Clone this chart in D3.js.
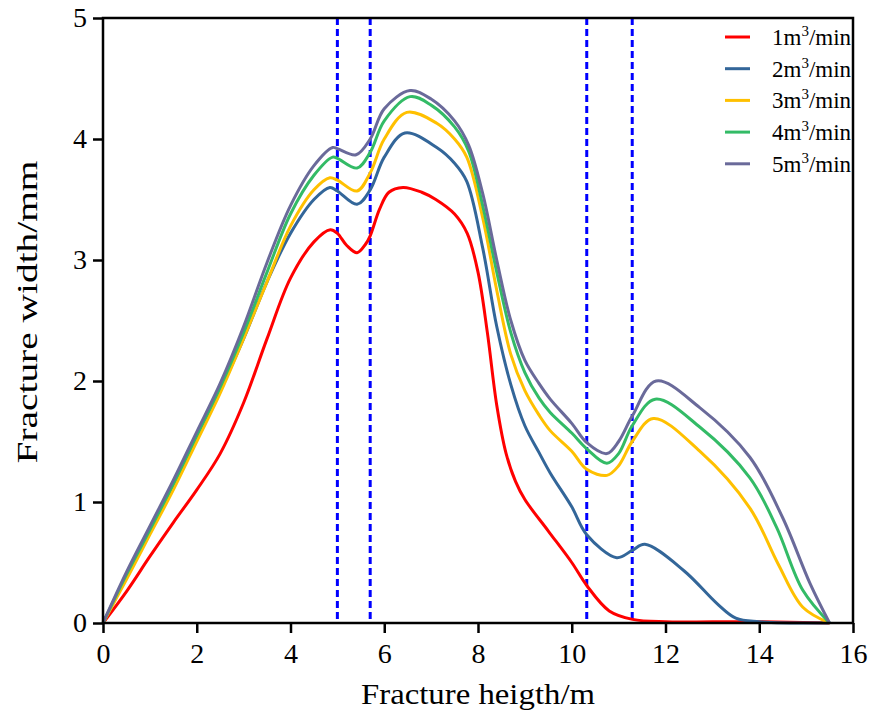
<!DOCTYPE html>
<meta charset="utf-8">
<script src="https://d3js.org/d3.v7.min.js"></script>
<style>
  body { margin: 0; background: #fff; }
</style>
<div id="my_dataviz"></div>
<script>

// flow-rate series (m3/min) and their colours
var seriesNames = ["1", "2", "3", "4", "5"]
var seriesColors = ["#ff0000", "#336699", "#ffc000", "#33bb66", "#6a6a9a"]

// fracture height (x, m) and width (y, mm)
var red = [[0,0],[0.5,0.26],[1,0.55],[1.5,0.83],[2,1.1],[2.5,1.4],[3,1.82],[3.5,2.35],[4,2.85],[4.5,3.15],[4.85,3.25],[5,3.22],[5.2,3.12],[5.42,3.06],[5.6,3.13],[5.7,3.2],[5.9,3.42],[6.1,3.56],[6.4,3.6],[6.8,3.56],[7.1,3.5],[7.5,3.38],[7.77,3.22],[8,2.9],[8.2,2.4],[8.4,1.8],[8.6,1.4],[8.8,1.17],[9,1.02],[9.5,0.76],[10,0.5],[10.32,0.31],[10.8,0.1],[11.3,0.03],[12,0.01],[13,0.01],[14,0.01],[15.5,0]]
var blue = [[0,0],[0.5,0.38],[1,0.75],[1.5,1.12],[2,1.52],[2.5,1.92],[3,2.35],[3.5,2.82],[4,3.22],[4.5,3.5],[4.84,3.6],[5,3.57],[5.42,3.46],[5.7,3.58],[6,3.85],[6.44,4.05],[7.12,3.93],[7.5,3.8],[7.76,3.65],[8.1,3.1],[8.4,2.45],[8.7,1.97],[9,1.63],[9.3,1.41],[9.54,1.24],[10,0.96],[10.32,0.73],[10.96,0.54],[11.29,0.6],[11.56,0.65],[12.4,0.43],[13.1,0.16],[13.5,0.04],[14,0.01],[15.5,0]]
var yellow = [[0,0],[0.5,0.36],[1,0.73],[1.5,1.1],[2,1.5],[2.5,1.9],[3,2.35],[3.5,2.82],[4,3.28],[4.5,3.58],[4.84,3.68],[5,3.66],[5.42,3.57],[5.7,3.72],[6,4],[6.48,4.22],[7.12,4.13],[7.5,4],[7.76,3.85],[8.1,3.35],[8.4,2.75],[8.7,2.22],[9,1.92],[9.3,1.72],[9.54,1.59],[10,1.42],[10.32,1.27],[10.75,1.22],[11,1.3],[11.29,1.5],[11.74,1.69],[12.73,1.42],[13.8,0.95],[14.4,0.49],[14.93,0.13],[15.5,0]]
var green = [[0,0],[0.5,0.4],[1,0.77],[1.5,1.15],[2,1.55],[2.5,1.95],[3,2.4],[3.5,2.9],[4,3.38],[4.5,3.7],[4.9,3.85],[5,3.84],[5.42,3.76],[5.7,3.89],[6,4.15],[6.55,4.35],[7,4.28],[7.5,4.1],[7.8,3.9],[8.1,3.45],[8.4,2.9],[8.7,2.4],[9,2.07],[9.3,1.86],[9.54,1.74],[10,1.57],[10.32,1.44],[10.75,1.32],[11,1.4],[11.29,1.63],[11.78,1.85],[12.73,1.62],[13.8,1.2],[14.37,0.79],[14.93,0.27],[15.5,0]]
var purple = [[0,0],[0.5,0.42],[1,0.8],[1.5,1.18],[2,1.58],[2.5,1.98],[3,2.45],[3.5,2.98],[4,3.45],[4.5,3.78],[4.9,3.93],[5,3.92],[5.4,3.87],[5.7,4],[6,4.25],[6.55,4.4],[7,4.33],[7.5,4.15],[7.8,3.95],[8.1,3.55],[8.4,3],[8.7,2.5],[9,2.17],[9.3,1.98],[9.54,1.85],[10,1.65],[10.32,1.49],[10.75,1.4],[11,1.5],[11.29,1.71],[11.8,2],[12.73,1.78],[13.8,1.37],[14.5,0.87],[15.08,0.33],[15.5,0]]
var seriesData = [red, blue, yellow, green, purple]

// layer boundaries (dashed lines)
var boundaries = [5.0, 5.7, 10.32, 11.29]

var xTicks = [0, 2, 4, 6, 8, 10, 12, 14, 16]
var yTicks = [0, 1, 2, 3, 4, 5]

var serif = "Liberation Serif, Times New Roman, serif"

var width = 877
var height = 715
var margin = {top: 18, right: 24, bottom: 92, left: 103}

var svg = d3.select("#my_dataviz")
  .append("svg")
    .attr("width", width)
    .attr("height", height)
    .attr("font-family", serif)

var x = d3.scaleLinear().domain([0, 16]).range([margin.left, width - margin.right])
var y = d3.scaleLinear().domain([0, 5]).range([height - margin.bottom, margin.top])

// dashed boundary lines
svg.selectAll(".bound")
  .data(boundaries)
  .enter()
  .append("line")
    .attr("x1", function(d){ return x(d) })
    .attr("x2", function(d){ return x(d) })
    .attr("y1", y(5))
    .attr("y2", y(0))
    .attr("stroke", "#0000ff")
    .attr("stroke-width", 3)
    .attr("stroke-dasharray", "7,4")

// the curves
var line = d3.line()
  .x(function(d){ return x(d[0]) })
  .y(function(d){ return y(d[1]) })
  .curve(d3.curveCatmullRom.alpha(0.5))

svg.selectAll(".series")
  .data(seriesData)
  .enter()
  .append("path")
    .attr("d", line)
    .attr("fill", "none")
    .attr("stroke", function(d, i){ return seriesColors[i] })
    .attr("stroke-width", 3)
    .attr("stroke-linejoin", "round")

// axes
var xAxis = svg.append("g")
  .attr("transform", "translate(0," + y(0) + ")")
  .call(d3.axisBottom(x).tickValues(xTicks).tickSize(10).tickPadding(10).tickFormat(d3.format("d")))
var yAxis = svg.append("g")
  .attr("transform", "translate(" + x(0) + ",0)")
  .call(d3.axisLeft(y).tickValues(yTicks).tickSize(10).tickPadding(6).tickFormat(d3.format("d")))

;[xAxis, yAxis].forEach(function(a){
  a.attr("font-family", serif).attr("font-size", 28)
  a.select(".domain").remove()
  a.selectAll(".tick line").attr("stroke", "#000").attr("stroke-width", 2.5)
  a.selectAll(".tick text")
    .attr("font-family", serif)
    .attr("font-size", 28)
    .attr("fill", "#000")
})

// frame around the plot
svg.append("rect")
  .attr("x", x(0))
  .attr("y", y(5))
  .attr("width", x(16) - x(0))
  .attr("height", y(0) - y(5))
  .attr("fill", "none")
  .attr("stroke", "#000")
  .attr("stroke-width", 2.5)

// axis titles
svg.append("text")
  .attr("x", (x(0) + x(16)) / 2)
  .attr("y", 704)
  .attr("text-anchor", "middle")
  .attr("textLength", 234)
  .attr("lengthAdjust", "spacingAndGlyphs")
  .attr("font-size", 30)
  .text("Fracture heigth/m")

svg.append("text")
  .attr("transform", "translate(37,312) rotate(-90)")
  .attr("text-anchor", "middle")
  .attr("textLength", 303)
  .attr("lengthAdjust", "spacingAndGlyphs")
  .attr("font-size", 30)
  .text("Fracture width/mm")

// legend
var legend = svg.selectAll(".legend-item")
  .data(seriesNames)
  .enter()
  .append("g")
    .attr("transform", function(d, i){ return "translate(725," + (37 + i * 31.7) + ")" })

legend.append("line")
  .attr("x1", 0).attr("x2", 25)
  .attr("stroke", function(d, i){ return seriesColors[i] })
  .attr("stroke-width", 3)

var lt = legend.append("text")
  .attr("x", 47)
  .attr("y", 8)
  .attr("font-size", 23)
lt.append("tspan").text(function(d){ return d + "m" })
lt.append("tspan").attr("dy", -9).attr("font-size", 15).text("3")
lt.append("tspan").attr("dy", 9).text("/min")

</script>
